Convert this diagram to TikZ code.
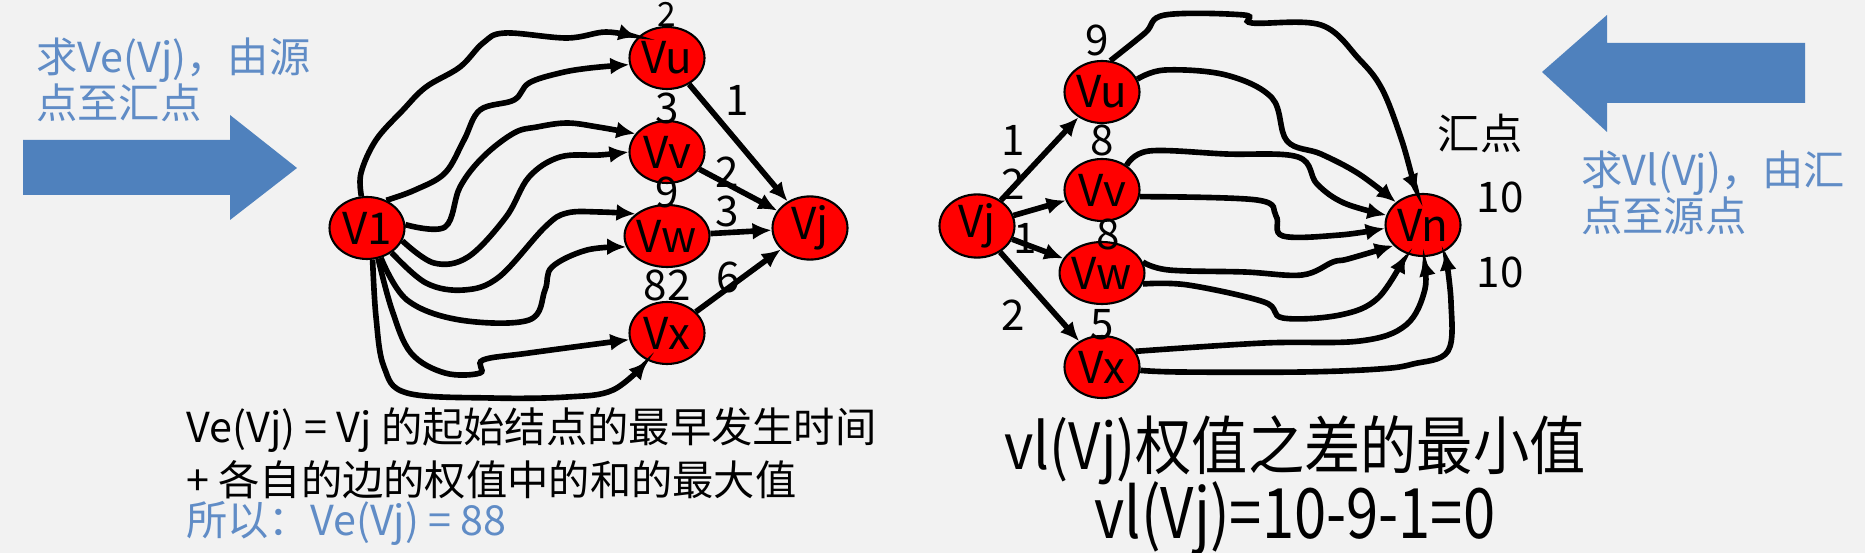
\documentclass[tikz,border=0pt]{standalone}
\usepackage{fontspec}
\setmainfont{Noto Sans CJK SC}
\usetikzlibrary{arrows.meta,shapes.geometric}
\definecolor{bgcol}{RGB}{242,242,242}
\definecolor{arrblue}{RGB}{79,129,189}
\definecolor{txtblue}{RGB}{96,140,198}
\begin{document}
\begin{tikzpicture}[x=0.02cm,y=-0.02cm,
  vtx/.style={ellipse,draw=black,line width=1.2pt,fill=red,minimum width=1.5cm,minimum height=1.24cm,inner sep=0pt,font=\fontsize{25}{28}\selectfont},
  link/.style={line width=3.2pt,-{Latex[length=0.38cm,width=0.34cm]}},
  wig/.style={link,smooth,tension=0.6},
  num/.style={inner sep=0pt,font=\fontsize{24}{28}\selectfont},
  note/.style={inner sep=0pt,anchor=west,font=\fontsize{24}{28}\selectfont}]
\fill[bgcol] (0,0) rectangle (1865,553);
\useasboundingbox (0,0) rectangle (1865,553);

% big blue arrows
\fill[arrblue] (23,140) -- (230,140) -- (230,115) -- (297,168) -- (230,220) -- (230,195) -- (23,195) -- cycle;
\fill[arrblue] (1805,43) -- (1607,43) -- (1607,15) -- (1542,72) -- (1607,132) -- (1607,103) -- (1805,103) -- cycle;
\node[note,text=txtblue,align=left,font=\fontsize{23.5}{24}\selectfont] (toleft) at (36,80) {求Ve(Vj)，由源\\点至汇点};
\node[note,text=txtblue,align=left,font=\fontsize{23.5}{24}\selectfont] (toright) at (1581,193) {求Vl(Vj)，由汇\\点至源点};

% left graph
\node[vtx] (l1) at (367,228) {V1};
\node[vtx] (lu) at (667,58) {Vu};
\node[vtx] (lv) at (667,152) {Vv};
\node[vtx] (lw) at (667,236) {Vw};
\node[vtx] (lx) at (667,333) {Vx};
\node[vtx] (lj) at (810,228) {Vj};

\draw[wig] plot coordinates {(l1.100) (361,173) (376,140) (403,110) (426,87) (460,67) (483,43) (505,33) (567,38) (606,32) (lu.145)};
\draw[wig] plot coordinates {(l1.55) (415,190) (445,173) (464,140) (480,110) (514,100) (529,83) (560,73) (590,68) (lu.190)};
\draw[wig] plot coordinates {(l1.5) (445,227) (460,187) (483,157) (514,133) (537,127) (567,123) (598,127) (lv.150)};
\draw[wig] plot coordinates {(l1.-20) (434,263) (468,257) (506,217) (529,177) (560,157) (600,155) (lv.180)};
\draw[wig] plot coordinates {(l1.-45) (426,283) (464,290) (499,277) (545,227) (567,213) (600,212) (lw.145)};
\draw[wig] plot coordinates {(l1.-65) (407,300) (460,320) (529,320) (545,290) (552,267) (587,250) (lw.195)};
\draw[wig] plot coordinates {(l1.-70) (392,310) (411,353) (445,373) (480,373) (483,360) (529,353) (lx.190)};
\draw[wig] plot coordinates {(l1.-80) (376,317) (384,367) (407,393) (491,398) (567,397) (613,390) (lx.235)};

\draw[link] (lu) -- (lj);
\draw[link] (lv) -- (lj);
\draw[link] (lw) -- (lj);
\draw[link] (lx) -- (lj);

\node[num,font=\fontsize{19}{22}\selectfont] (lut) at (667,14) {2};
\node[num] (lvt) at (667,108) {3};
\node[num] (lwt) at (667,192) {9};
\node[num] (lxt) at (667,285) {82};
\node[num] (luj) at (737,100) {1};
\node[num] (lvj) at (727,172) {2};
\node[num] (lwj) at (727,211) {3};
\node[num] (lxj) at (728,277) {6};

\node[note,font=\fontsize{23.5}{28}\selectfont] (rule1) at (186,430) {Ve(Vj) = Vj 的起始结点的最早发生时间};
\node[note,font=\fontsize{23.5}{28}\selectfont] (rule2) at (186,480) {+ 各自的边的权值中的和的最大值};
\node[note,font=\fontsize{23.5}{28}\selectfont,text=txtblue] (rule3) at (186,523) {所以：Ve(Vj) = 88};

% right graph
\node[vtx] (rj) at (977,226) {Vj};
\node[vtx] (ru) at (1102,92) {Vu};
\node[vtx] (rv) at (1102,190) {Vv};
\node[vtx] (rw) at (1102,273) {Vw};
\node[vtx] (rx) at (1102,367) {Vx};
\node[vtx] (rn) at (1423,225) {Vn};

\draw[link] (rj) -- (ru);
\draw[link] (rj) -- (rv);
\draw[link] (rj) -- (rw);
\draw[link] (rj) -- (rx);

\draw[wig] plot coordinates {(ru.75) (1145,33) (1165,15) (1244,15) (1252,23) (1321,25) (1359,59) (1382,89) (1401,138) (1413,180) (rn.100)};
\draw[wig] plot coordinates {(ru.20) (1165,70) (1226,75) (1272,98) (1287,141) (1321,154) (1359,174) (rn.140)};
\draw[wig] plot coordinates {(rv.45) (1149,151) (1226,154) (1298,157) (1317,184) (1344,203) (rn.165)};
\draw[wig] plot coordinates {(rv.-10) (1257,200) (1276,216) (1283,236) (1340,235) (rn.185)};
\draw[wig] plot coordinates {(rw.15) (1169,270) (1245,272) (1302,275) (1333,262) (1348,259) (rn.215)};
\draw[wig] plot coordinates {(rw.-15) (1188,285) (1264,302) (1283,318) (1340,315) (1378,298) (rn.240)};
\draw[wig] plot coordinates {(rx.25) (1264,343) (1360,341) (1406,325) (1425,289) (rn.270)};
\draw[wig] plot coordinates {(rx.-5) (1180,372) (1302,372) (1379,369) (1413,364) (1448,351) (1451,302) (rn.310)};

\node[num] (rut) at (1097,40) {9};
\node[num] (rvt) at (1102,140) {8};
\node[num] (rwt) at (1108,234) {8};
\node[num] (rxt) at (1102,325) {5};
\node[num] (rju) at (1013,140) {1};
\node[num] (rjv) at (1013,184) {2};
\node[num] (rjw) at (1025,238) {1};
\node[num] (rjx) at (1013,315) {2};

\node[num] (sink) at (1480,133) {汇点};
\node[num] (ten1) at (1500,197) {10};
\node[num] (ten2) at (1500,272) {10};

\node[inner sep=0pt,font=\fontsize{33}{40}\selectfont] (vl1) at (1295,450) {\scalebox{0.97}[1.1]{vl(Vj)权值之差的最小值}};
\node[inner sep=0pt,font=\fontsize{33}{40}\selectfont] (vl2) at (1295,518) {\scalebox{1}[1.2]{vl(Vj)=10-9-1=0}};
\end{tikzpicture}
\end{document}
